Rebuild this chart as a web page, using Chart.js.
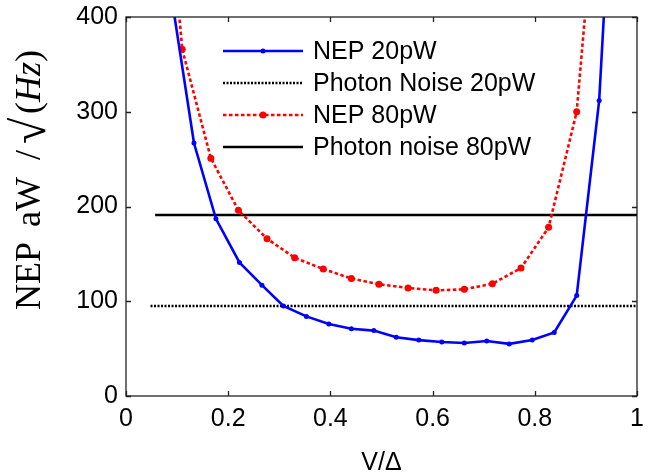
<!DOCTYPE html>
<html>
<head>
<meta charset="utf-8">
<script src="https://cdn.jsdelivr.net/npm/chart.js@4.4.1/dist/chart.umd.min.js"></script>
<style>
    html, body { margin: 0; padding: 0; background: #fff; }
</style>
</head>
<body>
<canvas id="nep-chart" width="657" height="476"></canvas>
<script>
// Values (NEP in aW/sqrt(Hz) against V/Δ)
const vDelta20 = [0.088, 0.133, 0.176, 0.222, 0.266, 0.308, 0.353, 0.397, 0.441, 0.485, 0.529,
                  0.573, 0.618, 0.662, 0.706, 0.750, 0.795, 0.838, 0.882, 0.926, 0.970];
const nep20 = [425, 267, 187, 141, 117, 95, 84, 76, 71, 69, 62,
               59, 57, 56, 58, 55, 59, 67, 106, 312, 740];

const vDelta80 = [0.055, 0.110, 0.166, 0.220, 0.276, 0.330, 0.386, 0.441, 0.495,
                  0.552, 0.607, 0.662, 0.717, 0.773, 0.827, 0.882, 0.938];
const nep80 = [700, 366, 251, 196, 166, 146, 134, 124, 118,
               114, 111.5, 112.6, 118.5, 135, 178, 300, 650];

const photonRange20 = [0.048, 1];
const photonLevel20 = 95;
const photonRange80 = [0.057, 1];
const photonLevel80 = 191;

const seriesLabels = ['NEP 20pW', 'Photon Noise 20pW', 'NEP 80pW', 'Photon noise 80pW'];
const xTicks = [0, 0.2, 0.4, 0.6, 0.8, 1];
const yTicks = [0, 100, 200, 300, 400];

const SANS = '"Liberation Sans", Arial, Helvetica, sans-serif';
const SERIF = '"Liberation Serif", "Times New Roman", serif';

const toPoints = (xs, ys) => xs.map((x, i) => ({ x: x, y: ys[i] }));

// box around the axes with inward tick marks, MATLAB style
const frameTicks = {
    id: 'frameTicks',
    afterDatasetsDraw(chart) {
        const { ctx, chartArea: a, scales } = chart;
        const len = 5;
        ctx.save();
        ctx.strokeStyle = '#222';
        ctx.lineWidth = 1.3;
        ctx.beginPath();
        xTicks.forEach(v => {
            const px = Math.round(scales.x.getPixelForValue(v)) + 0.5;
            ctx.moveTo(px, a.bottom); ctx.lineTo(px, a.bottom - len);
            ctx.moveTo(px, a.top); ctx.lineTo(px, a.top + len);
        });
        yTicks.forEach(v => {
            const py = Math.round(scales.y.getPixelForValue(v)) + 0.5;
            ctx.moveTo(a.left, py); ctx.lineTo(a.left + len, py);
            ctx.moveTo(a.right, py); ctx.lineTo(a.right - len, py);
        });
        ctx.stroke();
        ctx.strokeRect(a.left, a.top, a.right - a.left, a.bottom - a.top);
        ctx.restore();
    }
};

// legend inside the plot, no box
const innerLegend = {
    id: 'innerLegend',
    afterDatasetsDraw(chart) {
        const { ctx } = chart;
        const x0 = 223, x1 = 303, textX = 313;
        const rows = [51, 83, 115, 147];
        ctx.save();
        chart.data.datasets.forEach((ds, i) => {
            const y = rows[i];
            ctx.strokeStyle = ds.borderColor;
            ctx.lineWidth = ds.borderWidth;
            ctx.setLineDash(ds.borderDash || []);
            ctx.beginPath();
            ctx.moveTo(x0, y);
            ctx.lineTo(x1, y);
            ctx.stroke();
            ctx.setLineDash([]);
            if (ds.pointRadius > 0) {
                ctx.fillStyle = ds.pointBackgroundColor;
                ctx.beginPath();
                ctx.arc((x0 + x1) / 2, y, ds.pointRadius, 0, Math.PI * 2);
                ctx.fill();
            }
            ctx.fillStyle = '#000';
            ctx.font = `25px ${SANS}`;
            ctx.textBaseline = 'middle';
            ctx.textAlign = 'left';
            ctx.fillText(ds.label, textX, y + 1);
        });
        ctx.restore();
    }
};

// y axis title: NEP aW / √(Hz) in a serif face
const yTitle = {
    id: 'yTitle',
    afterDraw(chart) {
        const { ctx } = chart;
        ctx.save();
        ctx.translate(40, 0);
        ctx.rotate(-Math.PI / 2);
        ctx.fillStyle = '#000';
        ctx.textAlign = 'left';
        ctx.textBaseline = 'alphabetic';
        ctx.font = `36px ${SERIF}`;
        ctx.fillText('NEP', -310, 0);
        ctx.fillText('aW', -227, 0);
        ctx.fillText('/', -160, 0);
        ctx.font = `48px ${SERIF}`;
        ctx.fillText('√', -144, 5);
        let u = -114;
        ctx.font = `36px ${SERIF}`;
        ctx.fillText('(', u, 0);
        u += ctx.measureText('(').width;
        ctx.font = `italic 36px ${SERIF}`;
        ctx.fillText('Hz', u, 0);
        u += ctx.measureText('Hz').width;
        ctx.font = `36px ${SERIF}`;
        ctx.fillText(')', u, 0);
        ctx.restore();
    }
};

const ctx = document.getElementById('nep-chart').getContext('2d');
const chart = new Chart(ctx, {
    type: 'line',
    data: {
        datasets: [
            {
                label: seriesLabels[0],
                data: toPoints(vDelta20, nep20),
                borderColor: '#0000ff',
                borderWidth: 2.6,
                pointRadius: 2.5,
                pointBackgroundColor: '#0000ff',
                pointBorderWidth: 0,
            },
            {
                label: seriesLabels[1],
                data: toPoints(photonRange20, [photonLevel20, photonLevel20]),
                borderColor: '#000000',
                borderWidth: 2.4,
                borderDash: [2, 1.5],
                pointRadius: 0,
            },
            {
                label: seriesLabels[2],
                data: toPoints(vDelta80, nep80),
                borderColor: '#ff0000',
                borderWidth: 2.6,
                borderDash: [3.5, 2.5],
                pointRadius: 3.5,
                pointBackgroundColor: '#ff0000',
                pointBorderWidth: 0,
            },
            {
                label: seriesLabels[3],
                data: toPoints(photonRange80, [photonLevel80, photonLevel80]),
                borderColor: '#000000',
                borderWidth: 2.4,
                pointRadius: 0,
            },
        ],
    },
    options: {
        responsive: false,
        animation: false,
        layout: { padding: { top: 17, right: 20, left: 0, bottom: 0 } },
        plugins: {
            legend: { display: false },
            tooltip: { enabled: false },
        },
        scales: {
            x: {
                type: 'linear',
                min: 0,
                max: 1,
                afterBuildTicks: s => { s.ticks = xTicks.map(v => ({ value: v })); },
                afterFit: s => { s.height = 80; s.paddingLeft = 0; s.paddingRight = 0; },
                grid: { display: false, drawTicks: false },
                border: { display: false },
                ticks: {
                    color: '#000',
                    padding: 8,
                    font: { family: SANS, size: 25 },
                    callback: v => (v === 0 || v === 1 ? String(v) : v.toFixed(1)),
                },
                title: {
                    display: true,
                    text: 'V/Δ',
                    color: '#000',
                    font: { family: SANS, size: 25 },
                    padding: { top: 0, bottom: -2 },
                },
            },
            y: {
                min: 0,
                max: 400,
                afterBuildTicks: s => { s.ticks = yTicks.map(v => ({ value: v })); },
                afterFit: s => { s.width = 126; s.paddingTop = 0; s.paddingBottom = 0; },
                grid: { display: false, drawTicks: false },
                border: { display: false },
                ticks: {
                    color: '#000',
                    padding: 8,
                    font: { family: SANS, size: 25 },
                },
            },
        },
    },
    plugins: [frameTicks, innerLegend, yTitle],
});
</script>
</body>
</html>
